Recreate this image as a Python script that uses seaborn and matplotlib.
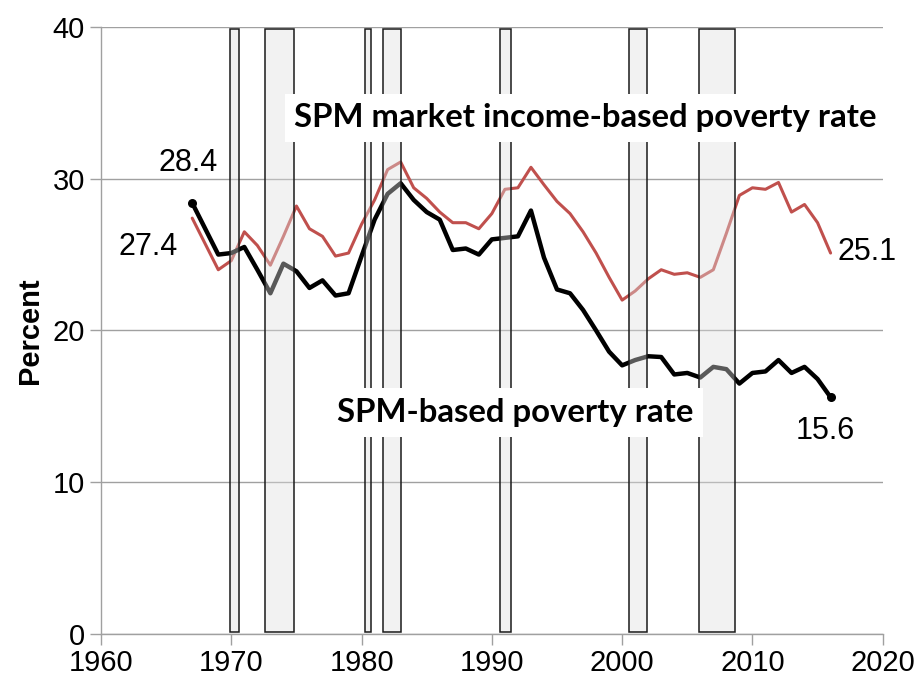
import seaborn as sns
import numpy as np
import matplotlib.pyplot as plt
import pandas as pd

# poverty rates, 1967-2016
years = list(range(1967, 2017))
spm_rate = [28.4, 26.7, 25.0, 25.1, 25.5, 24.0, 22.45, 24.4, 23.9, 22.8,
            23.3, 22.3, 22.45, 24.9, 27.3, 29.0, 29.7, 28.6, 27.8, 27.3,
            25.3, 25.4, 25.0, 26.0, 26.1, 26.2, 27.9, 24.8, 22.7, 22.45,
            21.35, 20.0, 18.6, 17.7, 18.05, 18.3, 18.25, 17.1, 17.2, 16.9,
            17.6, 17.45, 16.5, 17.2, 17.3, 18.05, 17.2, 17.6, 16.8, 15.6]
market_rate = [27.4, 25.7, 24.0, 24.6, 26.5, 25.6, 24.3, 26.2, 28.2, 26.7,
               26.2, 24.9, 25.1, 27.0, 28.6, 30.6, 31.1, 29.4, 28.7, 27.8,
               27.1, 27.1, 26.7, 27.7, 29.3, 29.4, 30.75, 29.6, 28.5, 27.7,
               26.5, 25.1, 23.5, 22.0, 22.6, 23.4, 24.0, 23.7, 23.8, 23.5,
               24.0, 26.4, 28.9, 29.4, 29.3, 29.75, 27.8, 28.3, 27.1, 25.1]

# recession periods (shaded bars)
rec_start = [1969.9, 1972.6, 1980.26, 1981.62, 1990.63, 2000.55, 2005.87]
rec_end = [1970.6, 1974.8, 1980.7, 1983.0, 1991.44, 2001.93, 2008.63]

df = pd.DataFrame({"year": years, "SPM": spm_rate, "Market": market_rate})

sns.set_style("white")
plt.rcParams['font.family'] = ['Liberation Sans', 'DejaVu Sans']
plt.rcParams['text.color'] = 'black'
plt.rcParams['axes.labelcolor'] = 'black'

fig = plt.figure(figsize=(9.15, 6.81), dpi=100)
ax = fig.add_axes([0.1104, 0.069, 0.8543, 0.8915])

# lines
sns.lineplot(data=df, x="year", y="Market", ax=ax, color="#c0504d", linewidth=2.2, zorder=3)
sns.lineplot(data=df, x="year", y="SPM", ax=ax, color="black", linewidth=3.2, zorder=3)
ends = df.iloc[[0, -1]]
ax.scatter(ends["year"], ends["SPM"], color="black", s=30, zorder=4)

# recession bars drawn over the lines
for s, e in zip(rec_start, rec_end):
    ax.bar(s, 39.7, width=e - s, bottom=0.15, align="edge",
           facecolor=(0.88, 0.88, 0.88, 0.4), edgecolor="#1a1a1a",
           linewidth=1.1, zorder=5)

ax.set_xlim(1960, 2020)
ax.set_ylim(0, 40)
ax.set_xticks(range(1960, 2021, 10))
ax.set_yticks(range(0, 41, 10))
ax.tick_params(axis="both", labelsize=21, labelcolor="black", length=8, width=1,
               direction="out", bottom=True, left=True, color="#a0a0a0")
ax.tick_params(axis="x", pad=3)

ax.grid(axis="y", color="#a0a0a0", linewidth=1)
ax.grid(axis="x", visible=False)
for side in ["top", "right"]:
    ax.spines[side].set_visible(False)
for side in ["left", "bottom"]:
    ax.spines[side].set_color("#a0a0a0")
    ax.spines[side].set_linewidth(1)

ax.set_xlabel("")
ax.set_ylabel("Percent", fontsize=21, fontweight="bold", labelpad=6)

# end value labels
ax.text(1966.7, 31.0, "28.4", fontsize=22, ha="center", va="center", zorder=6)
ax.text(1963.6, 25.5, "27.4", fontsize=22, ha="center", va="center", zorder=6)
ax.text(2018.8, 25.2, "25.1", fontsize=22, ha="center", va="center", zorder=6)
ax.text(2015.6, 13.4, "15.6", fontsize=22, ha="center", va="center", zorder=6)

# series labels in white boxes
ax.text(1997.2, 34.0, "SPM market income-based poverty rate", fontsize=23.7,
        fontweight="bold", family=["Lato", "DejaVu Sans"], ha="center", va="center",
        zorder=7, bbox=dict(facecolor="white", edgecolor="none", boxstyle="square,pad=0.3"))
ax.text(1991.8, 14.6, "SPM-based poverty rate", fontsize=23.7,
        fontweight="bold", family=["Lato", "DejaVu Sans"], ha="center", va="center",
        zorder=7, bbox=dict(facecolor="white", edgecolor="none", boxstyle="square,pad=0.3"))

fig.savefig("out.png", dpi=100)
